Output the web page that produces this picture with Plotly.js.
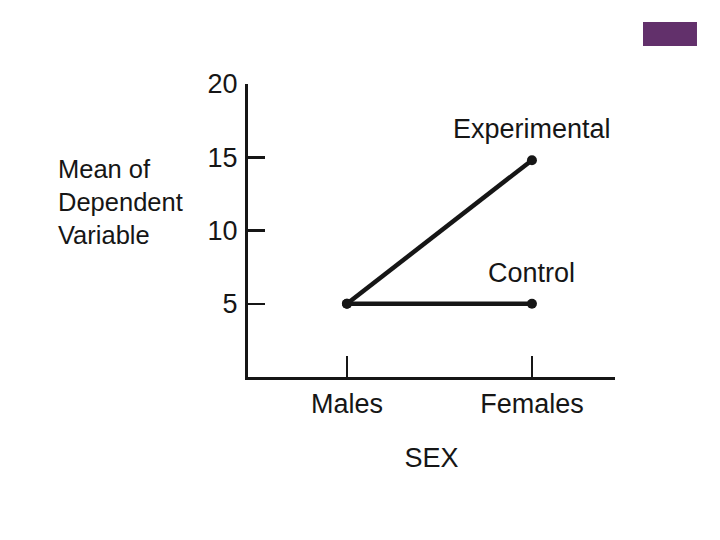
<!DOCTYPE html>
<html>
<head>
<meta charset="utf-8">
<script src="https://cdn.plot.ly/plotly-3.0.1.min.js"></script>
<style>html,body{margin:0;padding:0;background:#fff;}#chart{width:720px;height:540px;}</style>
</head>
<body>
<div id="chart"></div>
<script>
const categories = ["Males", "Females"];
const seriesNames = ["Experimental", "Control"];
const experimental = [5, 14.8];
const control = [5, 5];
const yTickVals = [5, 10, 15, 20];
const yTickText = ["5", "10", "15", "20"];
const yTitleLines = ["Mean of", "Dependent", "Variable"];
const xTitle = "SEX";

const xIdx = categories.map((c, i) => i);
const ink = "#161616";
const font = {family: "Liberation Sans, Arial, sans-serif", size: 27, color: ink};
const titleFont = {family: "Liberation Sans, Arial, sans-serif", size: 25.5, color: ink};

const mk = (name, vals) => ({
  type: "scatter", mode: "lines+markers", name: name,
  x: xIdx, y: vals,
  line: {color: ink, width: 4.5},
  marker: {color: ink, size: 10},
  hoverinfo: "skip"
});

const data = [mk(seriesNames[0], experimental), mk(seriesNames[1], control)];

const annotations = [
  {xref: "x", yref: "y", x: xIdx[1], y: experimental[1], yshift: 31, text: seriesNames[0],
   showarrow: false, font: font, xanchor: "center", yanchor: "middle"},
  {xref: "x", yref: "y", x: xIdx[1], y: control[1], yshift: 31, text: seriesNames[1],
   showarrow: false, font: font, xanchor: "center", yanchor: "middle"},
  {xref: "paper", yref: "paper", x: -0.523, y: 0.598, text: yTitleLines.join("<br>"),
   showarrow: false, font: titleFont, align: "left", xanchor: "left", yanchor: "middle"}
];

const layout = {
  width: 720, height: 540,
  margin: {l: 248, r: 105, t: 84, b: 163},
  paper_bgcolor: "#ffffff", plot_bgcolor: "#ffffff",
  showlegend: false,
  font: font,
  xaxis: {
    range: [-0.535, 1.449],
    tickvals: xIdx, ticktext: categories,
    showgrid: false, zeroline: false,
    showline: true, linecolor: ink, linewidth: 3,
    ticks: "inside", ticklen: 21, tickwidth: 2, tickcolor: ink,
    ticklabelstandoff: 1,
    tickfont: font,
    title: {text: xTitle, font: font, standoff: 30}
  },
  yaxis: {
    range: [0, 20],
    tickvals: yTickVals, ticktext: yTickText,
    showgrid: false, zeroline: false,
    showline: true, linecolor: ink, linewidth: 3,
    ticks: "inside", ticklen: 17, tickwidth: 2.5, tickcolor: ink,
    ticklabelstandoff: 2,
    tickfont: font
  },
  annotations: annotations,
  shapes: [
    {type: "rect", xref: "paper", yref: "paper", x0: 1.0763, x1: 1.2234, y0: 1.1297, y1: 1.2116,
     fillcolor: "#62306b", line: {width: 0}, layer: "above"}
  ]
};

Plotly.newPlot("chart", data, layout, {displayModeBar: false, staticPlot: true});
</script>
</body>
</html>
